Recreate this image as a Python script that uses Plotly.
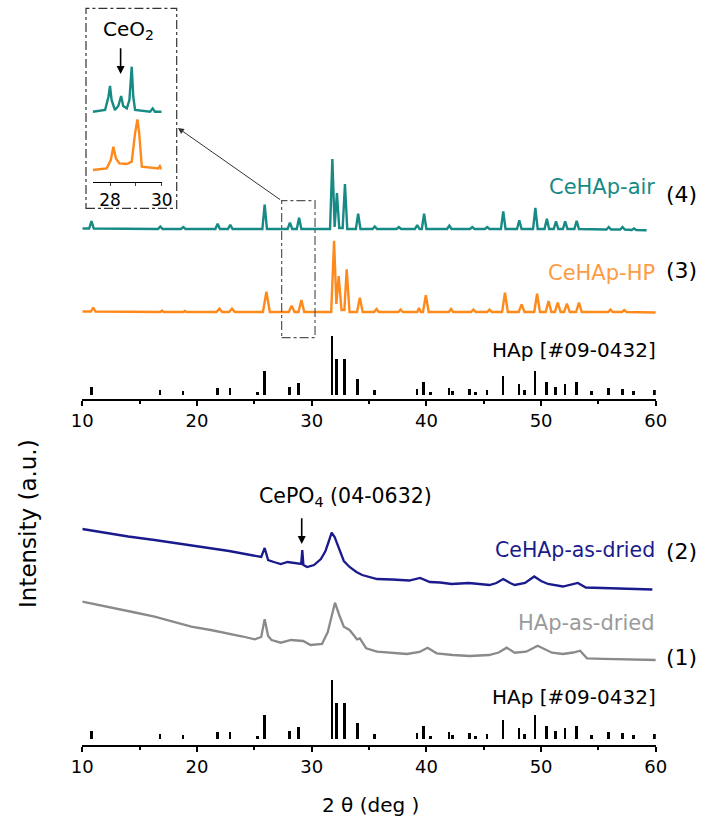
import plotly.graph_objects as go

# ---------------- data (2θ in deg, intensity in a.u. incl. vertical offsets) ----------------
# HAp reference pattern JCPDS #09-0432 (stick positions and relative heights)
hap_pos = [10.8, 16.8, 18.8, 21.8, 22.9, 25.3, 25.9, 28.1, 28.9, 31.8, 32.2, 32.9, 34.0, 35.5,
           39.2, 39.8, 40.4, 42.0, 42.3, 43.8, 44.3, 45.3, 46.7, 48.1, 48.6, 49.5, 50.5, 51.3,
           52.1, 53.1, 54.4, 55.9, 57.1, 58.1, 59.9]
hap_int = [8.3, 5.0, 4.3, 7.3, 7.3, 2.7, 24.3, 8.3, 11.7, 59.0, 35.7, 35.7, 15.7, 5.0,
           5.7, 12.7, 2.7, 7.0, 3.7, 5.7, 2.7, 4.7, 19.0, 10.7, 5.0, 24.3, 13.0, 8.3,
           10.7, 13.0, 4.0, 7.0, 5.7, 3.7, 5.0]

# (4) CeHAp-air
air_x = [10.0, 10.6, 10.8, 11.0, 16.6, 16.8, 17.0, 18.6, 18.8, 19.0, 21.6, 21.8, 22.0, 22.7, 22.9, 23.1,
         25.7, 25.9, 26.1, 27.9, 28.1, 28.3, 28.7, 28.9, 29.1, 31.6, 31.8, 32.0, 32.2, 32.4, 32.7, 32.9,
         33.1, 33.85, 34.05, 34.25, 35.3, 35.5, 35.7, 37.4, 37.6, 37.8, 39.0, 39.2, 39.4, 39.6, 39.8,
         40.0, 41.8, 42.0, 42.2, 43.8, 44.0, 44.2, 45.1, 45.3, 45.5, 46.5, 46.7, 46.9, 47.9, 48.1, 48.3,
         49.3, 49.5, 49.7, 50.3, 50.5, 50.7, 51.1, 51.3, 51.5, 51.9, 52.1, 52.3, 52.9, 53.1, 53.3,
         55.7, 55.9, 56.1, 56.9, 57.1, 57.3, 57.9, 58.1, 58.3, 59.2]
air_y = [170.5, 170.5, 178.0, 170.5, 170, 172.5, 170, 170, 172, 170, 170, 175.3, 170, 170, 174.3, 170,
         170, 194.3, 170, 170, 176.3, 170, 170, 181.3, 170, 170, 240, 172, 206, 171, 171, 215,
         170, 170, 185.3, 170, 170, 172.5, 170, 170, 172, 170, 170, 174, 170, 170, 185.3,
         170, 170, 173.3, 170, 170, 172, 170, 170, 172, 170, 170, 187.7, 170, 170, 178.7, 170,
         170, 191, 170, 170, 180.3, 170, 170, 177.6, 170, 170, 177.6, 170, 170, 178.3, 170,
         169.5, 172, 169.5, 169.5, 172, 169.5, 169, 170.5, 169, 168.7]

# (3) CeHAp-HP
hp_x = [10.0, 10.75, 10.95, 11.15, 16.8, 16.95, 17.1, 18.8, 18.95, 19.1, 21.7, 21.95, 22.2, 22.8, 23.05,
        23.3, 25.75, 26.05, 26.35, 28.0, 28.25, 28.5, 28.85, 29.1, 29.35, 31.7, 31.95, 32.15, 32.35,
        32.6, 32.85, 33.05, 33.3, 33.95, 34.2, 34.45, 35.45, 35.65, 35.85, 37.55, 37.75, 37.95, 39.2,
        39.35, 39.5, 39.7, 39.95, 40.2, 41.95, 42.15, 42.35, 43.9, 44.1, 44.3, 45.3, 45.5, 45.7, 46.6,
        46.85, 47.1, 48.05, 48.3, 48.55, 49.4, 49.65, 49.9, 50.4, 50.65, 50.9, 51.2, 51.45, 51.7, 52.0,
        52.25, 52.5, 53.05, 53.3, 53.55, 55.85, 56.05, 56.25, 57.05, 57.25, 57.45, 60.0]
hp_y = [87.5, 87.5, 91.5, 87.5, 87, 88.5, 87, 87, 88, 87, 87, 90.3, 87, 87, 90.3,
        87, 87, 107.3, 87, 87, 93.3, 87, 87, 99, 87, 87, 158.3, 95, 123,
        89, 89, 129.7, 87, 87, 101.3, 87, 87, 90, 87, 87, 89.5, 87, 87,
        91, 87, 87, 103.7, 87, 87, 90, 87, 87, 89.5, 87, 87, 89.5, 87, 87,
        106.3, 87, 87, 94.7, 87, 87, 105.3, 87, 87, 98, 87, 87, 96.3, 87, 87,
        95.3, 87, 87, 96.3, 87, 87, 89.5, 87, 87, 89, 87, 86.5]

# (2) CeHAp-as-dried
dried_ce_x = [10.0, 12.0, 14.0, 16.3, 18.5, 20.5, 22.8, 24.2, 25.0, 25.6, 25.9, 26.2, 26.7, 27.3, 27.9,
              28.5, 29.08, 29.18, 29.28, 29.6, 30.2, 30.8, 31.2, 31.5, 31.74, 32.0, 32.4, 32.8, 33.3,
              33.9, 34.4, 35.0, 35.7, 37.0, 38.5, 39.45, 40.3, 41.2, 42.2, 43.7, 44.6, 45.5, 46.1,
              46.7, 47.3, 47.7, 48.6, 49.4, 50.0, 50.6, 51.9, 52.6, 53.2, 53.9, 55.2, 56.8, 58.3, 59.7]
dried_ce_y = [216, 212, 208.5, 205, 201.5, 198, 194, 191, 189, 188, 197, 185, 183, 181, 183,
              182, 181, 195, 180, 178, 180, 186, 194, 204, 212.3, 208, 195, 184, 178,
              173, 170, 168, 166, 165.5, 164.5, 167, 163, 162.5, 161, 162, 161, 160, 162,
              166, 162, 160, 162, 168.5, 164, 161, 158.5, 160, 162, 157.5, 157, 156.5, 156, 155.5]

# (1) HAp-as-dried
dried_hap_x = [10.0, 11.5, 13.0, 14.6, 16.3, 18.0, 19.5, 21.2, 22.8, 24.0, 25.03, 25.6, 25.9, 26.2, 26.5,
               27.3, 28.2, 29.25, 29.9, 30.9, 31.4, 32.03, 32.4, 32.8, 33.3, 33.95, 34.2, 34.75, 35.7,
               37.0, 38.3, 39.4, 40.1, 40.9, 42.3, 43.8, 45.46, 46.3, 47.0, 47.7, 48.7, 49.7, 50.95,
               51.9, 52.8, 53.4, 54.0, 55.4, 56.8, 58.4, 60.0]
dried_hap_y = [143.3, 140, 136.7, 132.5, 128.3, 123, 118.3, 115, 111.7, 108.5, 105.7, 108, 125.7, 109, 105,
               102.3, 105, 104, 100, 101, 113, 142.3, 130, 118.3, 115, 105.7, 106.7, 96.7, 93.3,
               92, 91, 93, 97.3, 91.7, 90, 89, 90, 92.5, 97.3, 92.3, 93.3, 99.3, 92.3,
               91, 92.5, 94.3, 86.7, 86.2, 85.7, 85.3, 85]

# inset (27.3-30 deg)
ins_air_x = [27.33, 27.81, 27.94, 28.0, 28.06, 28.19, 28.32, 28.43, 28.51, 28.65, 28.75, 28.84, 28.9,
             28.97, 29.55, 29.65, 29.74, 30.0]
ins_air_y = [70, 71.7, 85, 95.7, 81.7, 71.7, 75.7, 85.7, 75.7, 73.3, 81.7, 115, 85,
             71.7, 70, 73.3, 70, 70]
ins_hp_x = [27.33, 27.87, 28.03, 28.13, 28.23, 28.36, 28.65, 28.84, 28.97, 29.06, 29.13, 29.23, 29.87,
            29.93, 30.0]
ins_hp_y = [11.7, 13.3, 21.7, 35, 23.3, 18.3, 17.7, 20, 48.3, 62.3, 48.3, 15, 13.3, 15.7, 12.3]

main_ticks = [10, 20, 30, 40, 50, 60]
inset_ticks = [28, 30]

# ---------------- style ----------------
TEAL = "#178a86"
ORANGE = "#ff8a1c"
ORANGE_TXT = "#ff9a45"
NAVY = "#1a1a8c"
GRAY = "#8a8a8a"
GRAY_TXT = "#9a9a9a"
FONT = "DejaVu Sans"

fig = go.Figure()
fig.add_trace(go.Scatter(x=air_x, y=air_y, mode="lines", line=dict(color=TEAL, width=2.4), xaxis="x", yaxis="y"))
fig.add_trace(go.Scatter(x=hp_x, y=hp_y, mode="lines", line=dict(color=ORANGE, width=2.4), xaxis="x", yaxis="y"))
fig.add_trace(go.Bar(x=hap_pos, y=hap_int, base=4, width=0.24, marker=dict(color="black", line=dict(width=0)),
                     xaxis="x", yaxis="y"))
fig.add_trace(go.Scatter(x=dried_ce_x, y=dried_ce_y, mode="lines", line=dict(color=NAVY, width=2.3), xaxis="x2", yaxis="y2"))
fig.add_trace(go.Scatter(x=dried_hap_x, y=dried_hap_y, mode="lines", line=dict(color=GRAY, width=2.3), xaxis="x2", yaxis="y2"))
fig.add_trace(go.Bar(x=hap_pos, y=hap_int, base=6, width=0.24, marker=dict(color="black", line=dict(width=0)),
                     xaxis="x2", yaxis="y2"))
fig.add_trace(go.Scatter(x=ins_air_x, y=ins_air_y, mode="lines", line=dict(color=TEAL, width=2.4), xaxis="x3", yaxis="y3"))
fig.add_trace(go.Scatter(x=ins_hp_x, y=ins_hp_y, mode="lines", line=dict(color=ORANGE, width=2.4), xaxis="x3", yaxis="y3"))

W, H = 713, 825
def px(x):
    return x / W
def py(y):
    return 1 - y / H

xdom = [px(82.3), px(655.8)]
main_x = dict(range=[10, 60], tickvals=main_ticks, showline=True, linecolor="black", linewidth=1.5,
              ticks="outside", ticklen=5, tickwidth=1.5, tickcolor="black",
              minor=dict(dtick=5, tick0=5, ticks="outside", ticklen=3, tickwidth=1.5, tickcolor="black"),
              showgrid=False, zeroline=False, tickfont=dict(family=FONT, size=18, color="black"))

fig.update_layout(
    width=W, height=H, margin=dict(l=0, r=0, t=0, b=0, pad=0, autoexpand=False),
    paper_bgcolor="white", plot_bgcolor="rgba(0,0,0,0)", showlegend=False, bargap=0,
    xaxis=dict(domain=xdom, anchor="y", **main_x),
    yaxis=dict(domain=[py(399), py(139)], range=[0, 260], visible=False, anchor="x"),
    xaxis2=dict(domain=xdom, anchor="y2", **main_x),
    yaxis2=dict(domain=[py(745), py(485)], range=[0, 260], visible=False, anchor="x2"),
    xaxis3=dict(domain=[px(92.7), px(161.7)], anchor="y3", range=[27.33, 30.0], tickvals=inset_ticks,
                showline=True, linecolor="black", linewidth=1, ticks="outside", ticklen=3, tickwidth=1,
                minor=dict(dtick=1, ticks="outside", ticklen=3, tickwidth=1),
                showgrid=False, zeroline=False, tickfont=dict(family=FONT, size=17, color="black")),
    yaxis3=dict(domain=[py(181.7), py(50)], range=[0, 131.7], visible=False, anchor="x3"),
    font=dict(family=FONT, color="black"),
)

# dashed boxes
fig.add_shape(type="rect", xref="x", yref="y", x0=27.38, x1=30.29, y0=61.3, y1=198.3,
              line=dict(color="#555", width=1.2, dash="dashdot"))
fig.add_shape(type="rect", xref="paper", yref="paper", x0=px(86), x1=px(176.7), y0=py(208.3), y1=py(8.3),
              line=dict(color="#333", width=1.2, dash="dashdot"))

ann = []
def txt(text, x, y, size, color="black", xanchor="center", **kw):
    ann.append(dict(text=text, x=px(x), y=py(y), xref="paper", yref="paper", showarrow=False, xanchor=xanchor,
                    yanchor="middle", font=dict(family=FONT, size=size, color=color), **kw))

# curve labels (pixel positions converted to paper coords)
txt("CeHAp-air", 657, 187, 21, TEAL, "right")
txt("CeHAp-HP", 657, 273, 21, ORANGE_TXT, "right")
txt("HAp [#09-0432]", 658, 350, 20, "black", "right")
txt("(4)", 681, 195, 22)
txt("(3)", 681, 270, 22)
txt("CeHAp-as-dried", 657, 550, 20.5, NAVY, "right")
txt("HAp-as-dried", 657, 623, 21, GRAY_TXT, "right")
txt("HAp [#09-0432]", 658, 697, 20, "black", "right")
txt("(2)", 681, 551, 22)
txt("(1)", 681, 657, 22)
txt("CePO<sub>4</sub> (04-0632)", 345, 497, 20.5)
txt("CeO<sub>2</sub>", 128.3, 30, 20)
# axis titles
txt("Intensity (a.u.)", 27.5, 523.5, 23, textangle=-90)
txt("2 θ (deg )", 370, 805, 20)

# arrows
ann.append(dict(x=18.34, y=271, ax=27.38, ay=198.3, xref="x", yref="y", axref="x", ayref="y", text="",
                showarrow=True, arrowhead=2, arrowsize=1.2, arrowwidth=1, arrowcolor="#333"))
ann.append(dict(x=29.13, y=201, ax=29.13, ay=228.3, xref="x2", yref="y2", axref="x2", ayref="y2", text="",
                showarrow=True, arrowhead=2, arrowsize=1, arrowwidth=1.6, arrowcolor="black"))
ann.append(dict(x=28.41, y=107.7, ax=28.41, ay=135, xref="x3", yref="y3", axref="x3", ayref="y3", text="",
                showarrow=True, arrowhead=2, arrowsize=1, arrowwidth=1.6, arrowcolor="black"))
fig.update_layout(annotations=ann)

fig.write_html("out.html")
